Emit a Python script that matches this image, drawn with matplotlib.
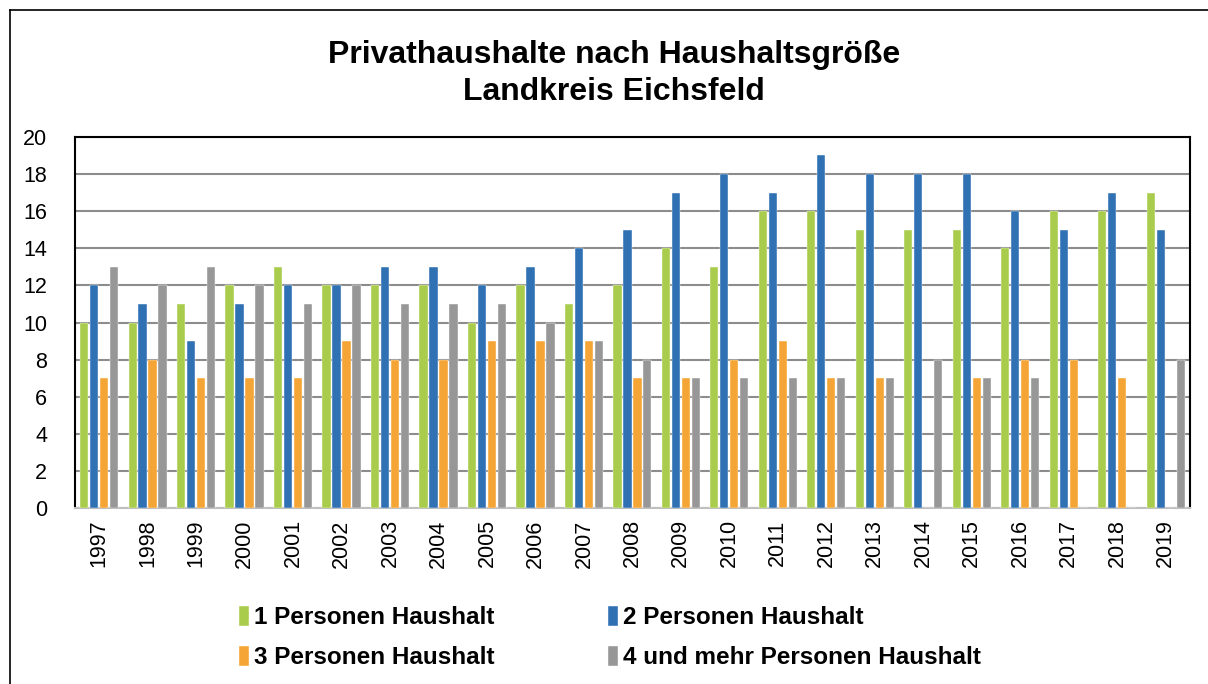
import numpy as np
import matplotlib.pyplot as plt
from matplotlib.lines import Line2D

plt.rcParams['font.family'] = ['Liberation Sans', 'DejaVu Sans']

# data
jahre = [str(j) for j in range(1997, 2020)]
p1 = [10, 10, 11, 12, 13, 12, 12, 12, 10, 12, 11, 12, 14, 13, 16, 16, 15, 15, 15, 14, 16, 16, 17]
p2 = [12, 11, 9, 11, 12, 12, 13, 13, 12, 13, 14, 15, 17, 18, 17, 19, 18, 18, 18, 16, 15, 17, 15]
p3 = [7, 8, 7, 7, 7, 9, 8, 8, 9, 9, 9, 7, 7, 8, 9, 7, 7, 0, 7, 8, 8, 7, 0]
p4 = [13, 12, 13, 12, 11, 12, 11, 11, 11, 10, 9, 8, 7, 7, 7, 7, 7, 8, 7, 7, 0, 0, 8]
namen = ['1 Personen Haushalt', '2 Personen Haushalt',
         '3 Personen Haushalt', '4 und mehr Personen Haushalt']
farben = ['#a9cc4c', '#2f71b3', '#f4a536', '#979797']

fig = plt.figure(figsize=(12.08, 6.84), dpi=100)
ax = fig.add_axes([0.062, 0.257, 0.923, 0.543])

x = np.arange(len(jahre))
pitch = 0.206
breite = 0.17
balken = []
for i, (werte, name, farbe) in enumerate(zip([p1, p2, p3, p4], namen, farben)):
    b = ax.bar(x + (i - 1.5) * pitch, werte, width=breite, color=farbe,
               label=name, zorder=3, edgecolor='white', linewidth=0.3)
    balken.append(b)

ax.set_xlim(-0.5, len(jahre) - 0.5)
ax.set_ylim(0, 20)
ax.set_yticks(range(0, 21, 2))
ax.set_xticks(x)
ax.set_xticklabels(jahre, rotation=90, fontsize=15.5)
ax.tick_params(axis='y', labelsize=15.5, length=0, pad=20)
ax.tick_params(axis='x', length=0, pad=8)
ax.yaxis.grid(True, color='#8c8c8c', linewidth=1.5, zorder=0)
ax.set_axisbelow(True)
for s in ['left', 'top', 'right']:
    ax.spines[s].set_color('black')
    ax.spines[s].set_linewidth(1.5)
ax.spines['bottom'].set_color('#bfbfbf')
ax.spines['bottom'].set_linewidth(1.5)

fig.text(0.508, 0.893, 'Privathaushalte nach Haushaltsgröße\nLandkreis Eichsfeld',
         ha='center', va='center', fontsize=23, fontweight='bold', linespacing=1.3)

# legend filled row-wise like the original: 1,2 / 3,4
reihenfolge = [0, 2, 1, 3]
leg = fig.legend([balken[i] for i in reihenfolge], [namen[i] for i in reihenfolge],
                 loc='center', bbox_to_anchor=(0.505, 0.068), ncol=2, frameon=False,
                 prop={'size': 17.5, 'weight': 'bold'}, handlelength=0.4, handleheight=0.9,
                 handletextpad=0.2, columnspacing=4.7, labelspacing=0.7)

# outer frame of the chart
fig.add_artist(Line2D([10 / 1208, 10 / 1208], [0, 1 - 10 / 684], color='black', linewidth=1.2))
fig.add_artist(Line2D([10 / 1208, 1], [1 - 10 / 684, 1 - 10 / 684], color='black', linewidth=1.2))

fig.savefig('out.png', dpi=100)
